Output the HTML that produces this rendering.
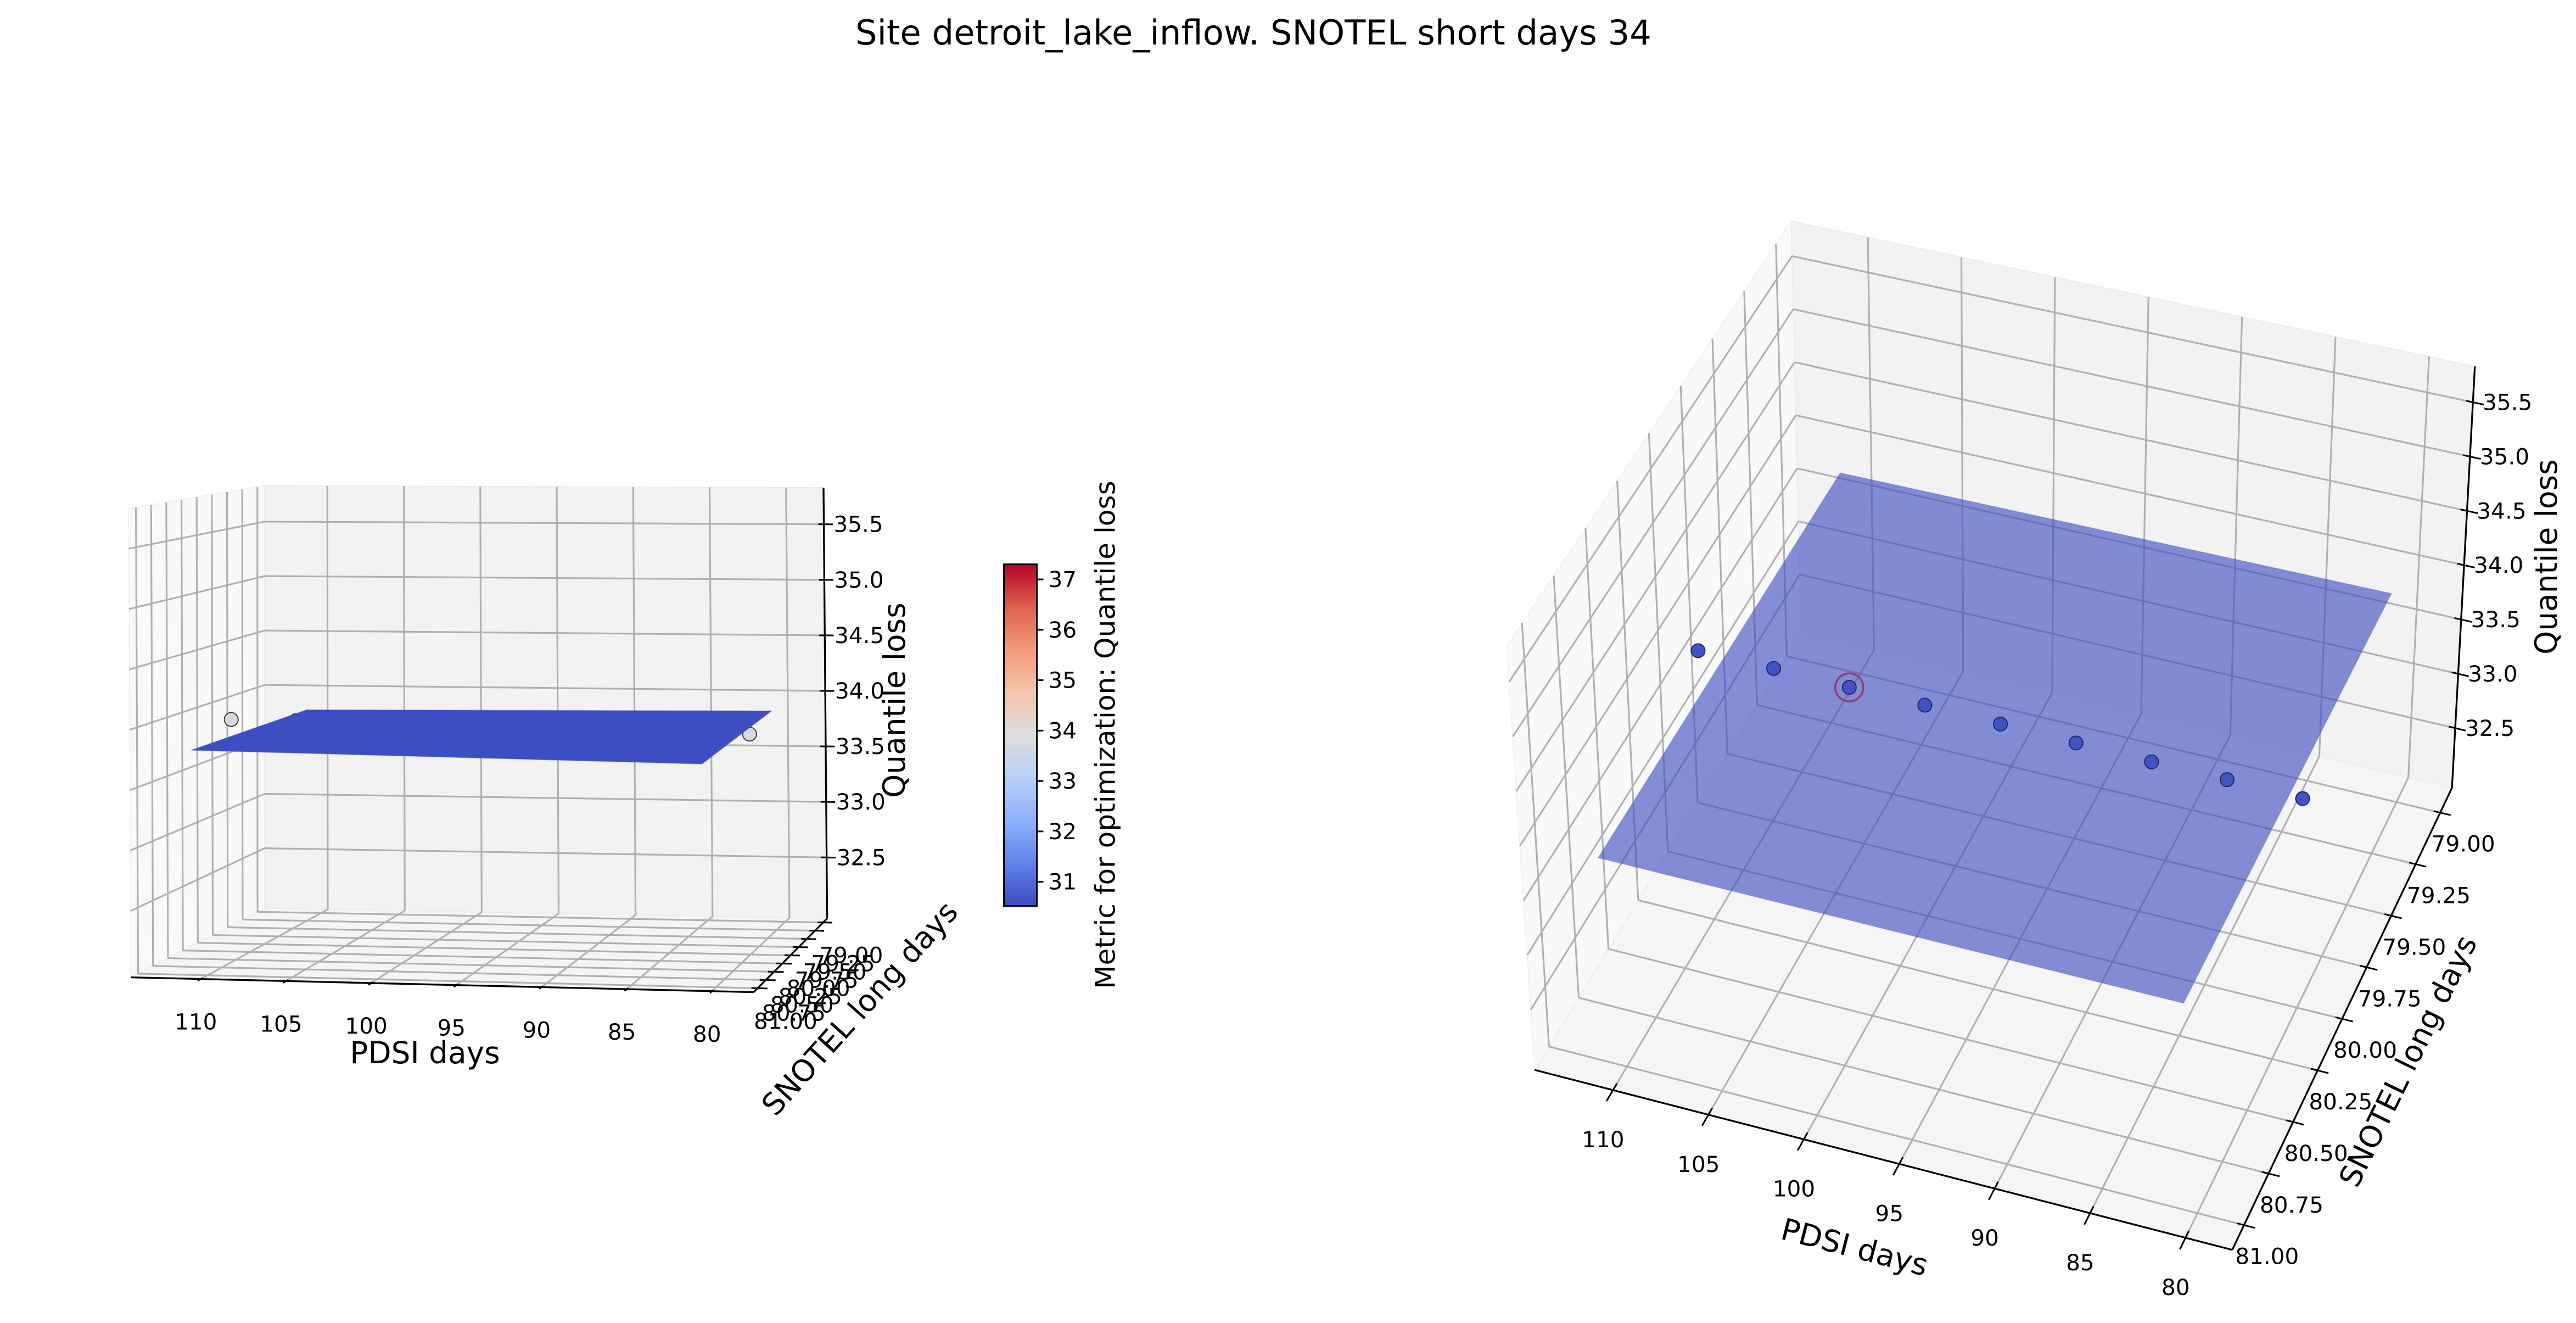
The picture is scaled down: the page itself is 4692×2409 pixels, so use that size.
<!DOCTYPE html>
<html><head><meta charset="utf-8"><title>Site detroit_lake_inflow</title>
<style>
html,body{margin:0;padding:0;background:#fff;}
svg{display:block;font-family:"DejaVu Sans","Liberation Sans",sans-serif;}
</style></head>
<body>
<svg id="fig" width="4692" height="2409" viewBox="0 0 1564 803" xmlns="http://www.w3.org/2000/svg">
<rect width="1564" height="803" fill="#fff"/>
<text x="761" y="27" font-size="20.8" text-anchor="middle" fill="#000">Site detroit_lake_inflow. SNOTEL short days 34</text>
<g id="left"></g>
<g id="right"></g>
<g id="cbar"></g>
</svg>
<script>
// ---- data ----
const pdsiTicks = [110, 105, 100, 95, 90, 85, 80];
const snotelTicks = [79.00, 79.25, 79.50, 79.75, 80.00, 80.25, 80.50, 80.75, 81.00];
const lossTicks = [32.5, 33.0, 33.5, 34.0, 34.5, 35.0, 35.5];
const pointsPdsi = [112, 108, 104, 100, 96, 92, 88, 84, 80];
const pointsSnotel = [80, 80, 80, 80, 80, 80, 80, 80, 80];
const pointsLoss = [33.90, 33.90, 33.89, 33.89, 33.88, 33.87, 33.86, 33.86, 33.85];
const bestIndex = 2;
const surfPdsi = [110.9, 80.8];
const surfSnotel = [79.0, 81.0];
const surfLoss = [[33.80, 33.84], [33.82, 33.80]];
const cbarTicks = [31, 32, 33, 34, 35, 36, 37];
const cbarRange = [30.52, 37.3];

const NS = "http://www.w3.org/2000/svg";
const XL = [114.1, 77.55], YL = [78.88, 81.12], ZL = [31.95, 35.83];
const TICK_FS = 13.5, LABEL_FS = 18.3;

function mk(parent, tag, attrs) {
  const e = document.createElementNS(NS, tag);
  for (const k in attrs) e.setAttribute(k, attrs[k]);
  parent.appendChild(e);
  return e;
}

function makeProj(c) {
  return function (x, y, z) {
    const u = (x - XL[0]) / (XL[1] - XL[0]);
    const v = (y - YL[0]) / (YL[1] - YL[0]);
    const w = (z - ZL[0]) / (ZL[1] - ZL[0]);
    const bl = (P, Q, R, S) => {
      const bx = P[0] + (Q[0] - P[0]) * u, by = P[1] + (Q[1] - P[1]) * u;
      const fx = R[0] + (S[0] - R[0]) * u, fy = R[1] + (S[1] - R[1]) * u;
      return [bx + (fx - bx) * v, by + (fy - by) * v];
    };
    const p0 = bl(c.D, c.C, c.A, c.B), p1 = bl(c.Dt, c.Ct, c.At, c.Bt);
    return [p0[0] + (p1[0] - p0[0]) * w, p0[1] + (p1[1] - p0[1]) * w];
  };
}

function poly(g, pts, attrs) {
  const a = Object.assign({ points: pts.map(p => p[0].toFixed(2) + "," + p[1].toFixed(2)).join(" ") }, attrs);
  return mk(g, "polygon", a);
}
function line(g, p, q, attrs) {
  return mk(g, "line", Object.assign({ x1: p[0], y1: p[1], x2: q[0], y2: q[1] }, attrs));
}

function drawAxes(g, P, opt) {
  const x0 = XL[0], x1 = XL[1], y0 = YL[0], y1 = YL[1], z0 = ZL[0], z1 = ZL[1];
  const dx = x1 - x0, dy = y1 - y0;
  const paneLeft = poly(g, [P(x0, y0, z0), P(x0, y1, z0), P(x0, y1, z1), P(x0, y0, z1)], { fill: "#f9f9f9", stroke: "#f0f0f0", "stroke-width": 0.6 });
  
  
  const paneBack = poly(g, [P(x0, y0, z0), P(x1, y0, z0), P(x1, y0, z1), P(x0, y0, z1)], { fill: "#f2f2f2", stroke: "#ebebeb", "stroke-width": 0.6 });
  
  
  const paneFloor = poly(g, [P(x0, y0, z0), P(x1, y0, z0), P(x1, y1, z0), P(x0, y1, z0)], { fill: "#f5f5f5", stroke: "#ececec", "stroke-width": 0.6 });
  
  
  const gs = { stroke: "#b0b0b0", "stroke-width": 1.05 };
  const grid = mk(g, "g", {});
  
  
  pdsiTicks.forEach(t => { line(grid, P(t, y0, z0), P(t, y0, z1), gs); line(grid, P(t, y0, z0), P(t, y1, z0), gs); });
  snotelTicks.forEach(t => { line(grid, P(x0, t, z0), P(x0, t, z1), gs); line(grid, P(x0, t, z0), P(x1, t, z0), gs); });
  lossTicks.forEach(t => { line(grid, P(x0, y0, t), P(x1, y0, t), gs); line(grid, P(x0, y0, t), P(x0, y1, t), gs); });
  const as = { stroke: "#000", "stroke-width": 1.1 };
  const ax1 = line(g, P(x0, y1, z0), P(x1, y1, z0), as);
  
  
  const ax2 = line(g, P(x1, y1, z0), P(x1, y0, z0), as);
  
  
  const ax3 = line(g, P(x1, y0, z0), P(x1, y0, z1), as);
  
  
  const ts = { stroke: "#000", "stroke-width": 1 };
  pdsiTicks.forEach(t => {
    const p = P(t, y1, z0), o = opt.xOff;
    line(g, P(t, y1 - 0.015 * dy, z0), P(t, y1 + 0.025 * dy, z0), ts);
    const tx = mk(g, "text", { x: p[0] + o[0], y: p[1] + o[1], "font-size": TICK_FS, "text-anchor": "middle", "dominant-baseline": "central" });
    tx.textContent = String(t);
    
    
  });
  snotelTicks.forEach(t => {
    const p = P(x1, t, z0), o = opt.yOff;
    line(g, P(x1 - 0.01 * dx, t, z0), P(x1 + 0.016 * dx, t, z0), ts);
    const tx = mk(g, "text", { x: p[0] + o[0], y: p[1] + o[1], "font-size": TICK_FS, "text-anchor": "middle", "dominant-baseline": "central" });
    tx.textContent = t.toFixed(2);
    
    
  });
  lossTicks.forEach(t => {
    const p = P(x1, y0, t), o = opt.zOff;
    line(g, P(x1 - 0.01 * dx, y0, t), P(x1 + 0.016 * dx, y0, t), ts);
    const tx = mk(g, "text", { x: p[0] + o[0], y: p[1] + o[1], "font-size": TICK_FS, "text-anchor": "middle", "dominant-baseline": "central" });
    tx.textContent = t.toFixed(1);
    
    
  });
  opt.labels.forEach(L => {
    const tx = mk(g, "text", { x: L[1], y: L[2], "font-size": LABEL_FS, "text-anchor": "middle", "dominant-baseline": "central", transform: "rotate(" + L[3] + " " + L[1] + " " + L[2] + ")" });
    tx.textContent = L[0];
    
    
  });
}

function drawSurface(g, P, fill, opacity) {
  const pts = [P(surfPdsi[0], surfSnotel[0], surfLoss[0][0]), P(surfPdsi[1], surfSnotel[0], surfLoss[0][1]),
               P(surfPdsi[1], surfSnotel[1], surfLoss[1][1]), P(surfPdsi[0], surfSnotel[1], surfLoss[1][0])];
  const s = poly(g, pts, { fill: fill, "fill-opacity": opacity, stroke: fill, "stroke-opacity": opacity * 0.5, "stroke-width": 0.5 });
  
  
}
function drawPoints(g, P, fill, stroke, ring) {
  for (let i = 0; i < pointsPdsi.length; i++) {
    const p = P(pointsPdsi[i], pointsSnotel[i], pointsLoss[i]);
    const c = mk(g, "circle", { cx: p[0], cy: p[1], r: 4.2, fill: fill, stroke: stroke, "stroke-width": 0.6 });
    
    
    if (ring && i === bestIndex) {
      const r = mk(g, "circle", { cx: p[0], cy: p[1], r: 8.5, fill: "none", stroke: "#993a78", "stroke-width": 1.2 });
      
      
    }
  }
}

// ---- left axes (front view) ----
const PL = makeProj({ A: [79.5, 593.2], B: [457.6, 602.2], C: [502.2, 557.5], D: [160.7, 551.2],
  At: [78.1, 308.8], Bt: [457, 317], Ct: [500, 296], Dt: [160.7, 294.8] });
const gL = document.getElementById("left");
drawAxes(gL, PL, { xOff: [-3, 26], yOff: [17, 20], zOff: [21, 0],
  labels: [["PDSI days", 258, 639, 0, "x-axis-title"], ["SNOTEL long days", 522, 612, -48, "y-axis-title"], ["Quantile loss", 543, 425, -90, "z-axis-title"]] });
drawPoints(gL, PL, "#d9d9d9", "#333", false);
drawSurface(gL, PL, "#3d4ec2", 1);

// ---- right axes ----
const PR = makeProj({ A: [931.8, 649.4], B: [1355.3, 758.6], C: [1488.7, 478.2], D: [1093.5, 384.1],
  At: [914.8, 392], Bt: [1358.2, 495.4], Ct: [1502.6, 222.4], Dt: [1087.5, 134.2] });
const gR = document.getElementById("right");
drawAxes(gR, PR, { xOff: [-6, 30], yOff: [14, 19], zOff: [21, 0],
  labels: [["PDSI days", 1126, 757, 14.5, "x-axis-title"], ["SNOTEL long days", 1462, 644, -64, "y-axis-title"], ["Quantile loss", 1546, 338, -90, "z-axis-title"]] });
drawSurface(gR, PR, "#3b4cc0", 0.62);
drawPoints(gR, PR, "#4152c4", "#1c2260", true);

// ---- colorbar ----
const gC = document.getElementById("cbar");
const defs = mk(gC, "defs", {});
const lg = mk(defs, "linearGradient", { id: "cw", x1: 0, y1: 1, x2: 0, y2: 0 });
[["0", "#3b4cc0"], ["0.125", "#6282ea"], ["0.25", "#8db0fe"], ["0.375", "#b8d0f9"], ["0.5", "#dddddd"],
 ["0.625", "#f5c4ad"], ["0.75", "#f49a7b"], ["0.875", "#de604d"], ["1", "#b40426"]].forEach(s => mk(lg, "stop", { offset: s[0], "stop-color": s[1] }));
const cbX = 609.5, cbW = 20, cbTop = 342.5, cbBot = 549.9;
const cbr = mk(gC, "rect", { x: cbX, y: cbTop, width: cbW, height: cbBot - cbTop, fill: "url(#cw)", stroke: "#000", "stroke-width": 1 });


const cy = v => cbBot - (v - cbarRange[0]) / (cbarRange[1] - cbarRange[0]) * (cbBot - cbTop);
cbarTicks.forEach(t => {
  const y = cy(t);
  line(gC, [cbX + cbW, y], [cbX + cbW + 4, y], { stroke: "#000", "stroke-width": 1 });
  const tx = mk(gC, "text", { x: cbX + cbW + 7, y: y, "font-size": TICK_FS, "dominant-baseline": "central" });
  tx.textContent = String(t);
  
  
});
const cl = mk(gC, "text", { x: 671, y: 446, "font-size": 16.7, "text-anchor": "middle", "dominant-baseline": "central", transform: "rotate(-90 671 446)" });
cl.textContent = "Metric for optimization: Quantile loss";


</script>
</body></html>
